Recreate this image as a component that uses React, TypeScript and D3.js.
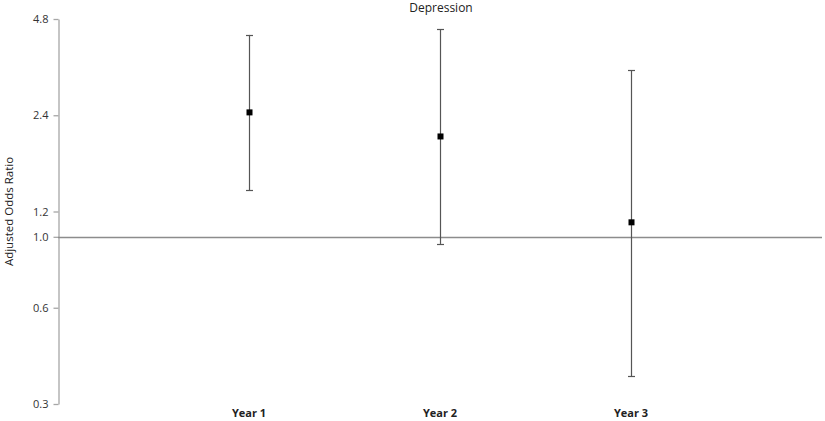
import * as d3 from "d3";
import { useRef, useEffect } from "react";

// --- data ---
const years = ["Year 1", "Year 2", "Year 3"];
const oddsRatio = [2.45, 2.06, 1.11];
const lowerCI = [1.4, 0.95, 0.367];
const upperCI = [4.28, 4.46, 3.32];
const yTicks = [0.3, 0.6, 1.0, 1.2, 2.4, 4.8];

export default function App() {
  const ref = useRef<SVGSVGElement>(null);

  useEffect(() => {
    const width = 825;
    const height = 421;
    const font = "'Open Sans', 'Noto Sans', sans-serif";

    const svg = d3.select(ref.current)
      .attr("width", width)
      .attr("height", height)
      .attr("viewBox", `0 0 ${width} ${height}`)
      .style("display", "block")
      .style("overflow", "visible")
      .style("font-family", font);

    svg.selectAll("*").remove();

    const data = years.map((y, i) => ({ year: y, or: oddsRatio[i], lo: lowerCI[i], hi: upperCI[i] }));

    // x: categories sit at 1..3 of a 0..4 range
    const x = d3.scaleLinear().domain([0, years.length + 1]).range([58, 822]);
    const y = d3.scaleLog().domain([0.3, 4.8]).range([404, 19]);

    // Y axis
    const yAxis = svg.append("g")
      .attr("transform", "translate(58.5,0)")
      .call(d3.axisLeft(y).tickValues(yTicks).tickFormat(d3.format(".1f")).tickSize(5).tickSizeOuter(0));
    yAxis.select(".domain").attr("stroke", "#a6a6a6").attr("stroke-width", 1.3);
    yAxis.selectAll(".tick line").attr("stroke", "#a6a6a6").attr("stroke-width", 1.3);
    yAxis.selectAll(".tick text")
      .attr("fill", "#333")
      .attr("font-size", 11)
      .attr("font-family", font)
      .attr("x", -10);

    // Reference line at OR = 1
    svg.append("line")
      .attr("x1", x(0)).attr("x2", x(years.length + 1))
      .attr("y1", Math.round(y(1)) + 0.5).attr("y2", Math.round(y(1)) + 0.5)
      .attr("stroke", "#8c8c8c")
      .attr("stroke-width", 1.3);

    const g = svg.append("g");
    const groups = g.selectAll("g").data(data).join("g");

    groups.append("line")
      .attr("x1", (d, i) => Math.round(x(i + 1)) + 0.5)
      .attr("x2", (d, i) => Math.round(x(i + 1)) + 0.5)
      .attr("y1", d => y(d.lo))
      .attr("y2", d => y(d.hi))
      .attr("stroke", "#555")
      .attr("stroke-width", 1.2);

    // whisker caps
    for (const key of ["lo", "hi"] as const) {
      groups.append("line")
        .attr("x1", (d, i) => Math.round(x(i + 1)) - 3)
        .attr("x2", (d, i) => Math.round(x(i + 1)) + 4)
        .attr("y1", d => Math.round(y(d[key])) + 0.5)
        .attr("y2", d => Math.round(y(d[key])) + 0.5)
        .attr("stroke", "#555")
        .attr("stroke-width", 1.2);
    }

    // point estimates
    groups.append("rect")
      .attr("x", (d, i) => Math.round(x(i + 1)) - 2.5)
      .attr("y", d => y(d.or) - 3)
      .attr("width", 6)
      .attr("height", 6)
      .attr("fill", "#000");

    // category labels
    svg.append("g").selectAll("text").data(years).join("text")
      .attr("x", (d, i) => x(i + 1))
      .attr("y", 417)
      .attr("text-anchor", "middle")
      .attr("font-size", 11)
      .attr("font-weight", "bold")
      .attr("fill", "#222")
      .text(d => d);

    // title
    svg.append("text")
      .attr("x", 441)
      .attr("y", 12)
      .attr("text-anchor", "middle")
      .attr("font-size", 12)
      .attr("fill", "#222")
      .text("Depression");

    // y label
    svg.append("text")
      .attr("transform", `translate(13,${(19 + 404) / 2}) rotate(-90)`)
      .attr("text-anchor", "middle")
      .attr("font-size", 11.5)
      .attr("fill", "#222")
      .text("Adjusted Odds Ratio");
  }, []);

  return (
    <div style={{ position: "absolute", left: 0, top: 0 }}>
      <svg ref={ref}></svg>
    </div>
  );
}
